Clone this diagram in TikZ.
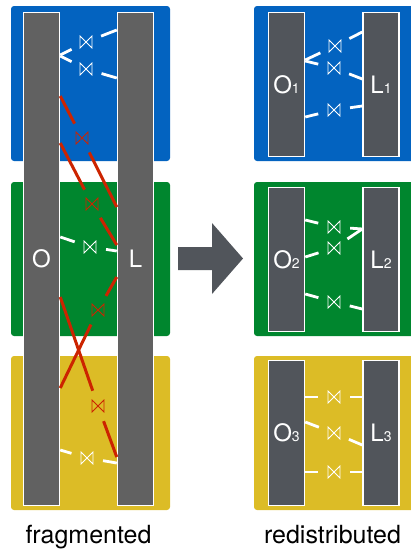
\documentclass[tikz,border=0pt]{standalone}
\usepackage{fontspec}
\setmainfont{TeX Gyre Heros}
\usepackage{xcolor}
\usepackage{tikz}

\definecolor{blu}{RGB}{3,99,192}
\definecolor{verde}{RGB}{0,134,46}
\definecolor{giallo}{RGB}{220,188,38}
\definecolor{rosso}{RGB}{204,36,0}
\definecolor{grigio}{RGB}{97,97,97}
\definecolor{ardesia}{RGB}{81,85,91}

\newcommand{\subidx}[1]{{\fontsize{14pt}{14pt}\selectfont #1}}

\begin{document}
\begin{tikzpicture}[x=1pt, y=-1pt,
	panel/.style={rounded corners=3pt},
	bar/.style={draw=white, line width=1.5pt, minimum width=36pt, inner sep=0pt,
		text=white, font=\fontsize{24pt}{24pt}\selectfont},
	tie/.style={circle, minimum size=32pt, inner sep=0pt,
		path picture={\draw[#1, line width=0.8pt]
			([shift={(-6,-6)}]path picture bounding box.center)
			-- ++(12,12) -- ++(0,-12) -- ++(-12,12) -- cycle;}},
	tie/.default=white,
	link/.style={draw=white, line width=2.8pt},
	redlink/.style={draw=rosso, line width=3pt},
	caption/.style={font=\fontsize{25pt}{25pt}\selectfont, anchor=base}]

	\useasboundingbox (0,0) rectangle (411,549);

	% pannelli
	\fill[panel, blu] (11,6) rectangle (170,161);
	\fill[panel, verde] (11,182) rectangle (170,336);
	\fill[panel, giallo] (11,356) rectangle (170,510);
	\fill[panel, blu] (254,6) rectangle (414,161);
	\fill[panel, verde] (254,182) rectangle (414,336);
	\fill[panel, giallo] (254,356) rectangle (414,510);

	% barre
	\node[bar, fill=grigio, minimum height=493pt] (O) at (41.5,259) {O};
	\node[bar, fill=grigio, minimum height=493pt] (L) at (135.5,259) {L};
	\node[bar, fill=ardesia, minimum height=144pt] (O1) at (286.5,84.5) {O\subidx{1}};
	\node[bar, fill=ardesia, minimum height=144pt] (L1) at (381,84.5) {L\subidx{1}};
	\node[bar, fill=ardesia, minimum height=144pt] (O2) at (286.5,259.5) {O\subidx{2}};
	\node[bar, fill=ardesia, minimum height=144pt] (L2) at (381,259.5) {L\subidx{2}};
	\node[bar, fill=ardesia, minimum height=145pt] (O3) at (286.5,433) {O\subidx{3}};
	\node[bar, fill=ardesia, minimum height=145pt] (L3) at (381,433) {L\subidx{3}};

	% giunti, frammentato
	\node[tie] (ta) at (86,42) {};
	\node[tie] (tb) at (86,69) {};
	\node[tie=rosso] (tc) at (82,138) {};
	\node[tie=rosso] (td) at (92,204) {};
	\node[tie] (te) at (90,247) {};
	\node[tie=rosso] (tf) at (98,310) {};
	\node[tie=rosso] (tg) at (98,406) {};
	\node[tie] (th) at (87,458) {};

	\draw[link] (O.east |- 0,55) -- (ta) -- (L.west |- 0,30);
	\draw[link] (O.east |- 0,56) -- (tb) -- (L.west |- 0,78);
	\draw[redlink] (O.east |- 0,96) -- (tc) -- (L.west |- 0,207);
	\draw[redlink] (O.east |- 0,143) -- (td) -- (L.west |- 0,245);
	\draw[link] (O.east |- 0,237) -- (te) -- (L.west |- 0,251);
	\draw[redlink] (L.west |- 0,277) -- (tf) -- (O.east |- 0,388);
	\draw[redlink] (O.east |- 0,297) -- (tg) -- (L.west |- 0,457);
	\draw[link] (O.east |- 0,450) -- (th) -- (L.west |- 0,463);

	% giunti, ridistribuito
	\node[tie] (s1a) at (335,46) {};
	\node[tie] (s1b) at (334,68) {};
	\node[tie] (s1c) at (334,110) {};
	\node[tie] (s2a) at (334,227) {};
	\node[tie] (s2b) at (334,248) {};
	\node[tie] (s2c) at (334,302) {};
	\node[tie] (s3a) at (334,397) {};
	\node[tie] (s3b) at (334,433) {};
	\node[tie] (s3c) at (334,472) {};

	\draw[link] (O1.east |- 0,60) -- (s1a) -- (L1.west |- 0,32);
	\draw[link] (O1.east |- 0,61) -- (s1b) -- (L1.west |- 0,79);
	\draw[link] (O1.east |- 0,117) -- (s1c) -- (L1.west |- 0,106);
	\draw[link] (O2.east |- 0,220) -- (s2a) -- (L2.west |- 0,229);
	\draw[link] (O2.east |- 0,257) -- (s2b) -- (L2.west |- 0,229);
	\draw[link] (O2.east |- 0,294) -- (s2c) -- (L2.west |- 0,309);
	\draw[link] (O3.east |- 0,397) -- (s3a) -- (L3.west |- 0,397);
	\draw[link] (O3.east |- 0,422) -- (s3b) -- (L3.west |- 0,445);
	\draw[link] (O3.east |- 0,472) -- (s3c) -- (L3.west |- 0,472);

	% freccia
	\fill[ardesia] (178,247) -- (212,247) -- (212,223) -- (243,258.5)
		-- (212,294) -- (212,270) -- (178,270) -- cycle;

	% didascalie
	\node[caption] (frag) at (88.5,543) {fragmented};
	\node[caption] (redis) at (332.5,543) {redistributed};
\end{tikzpicture}
\end{document}
